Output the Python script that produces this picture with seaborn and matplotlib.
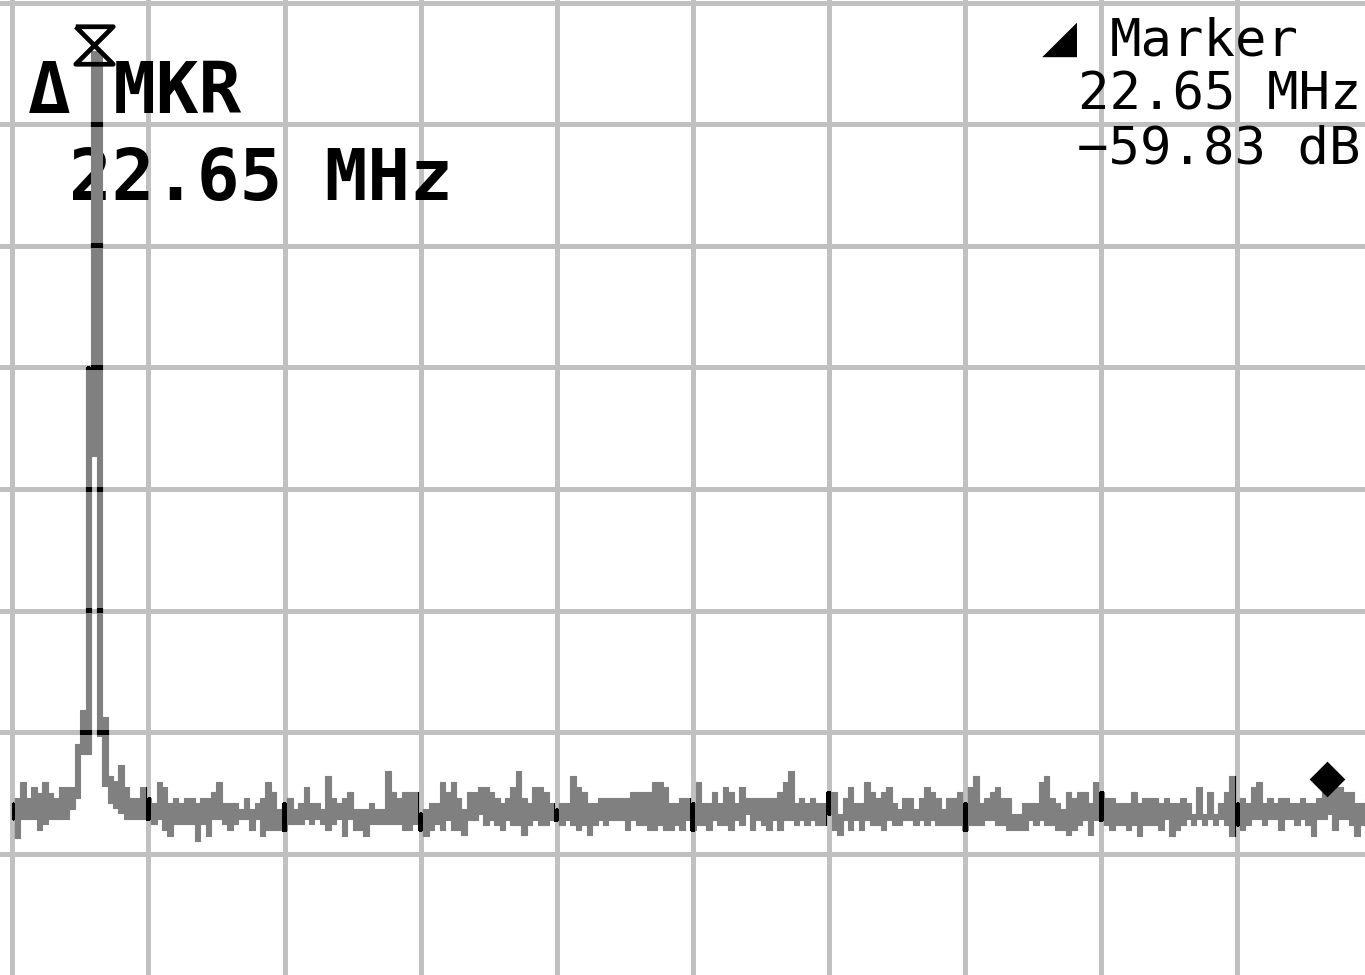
"""
Spectrum analyser screen: delta marker on a single carrier, 0-25 MHz sweep
"""

import numpy as np
import matplotlib
matplotlib.use('Agg')
import matplotlib.pyplot as plt
import seaborn as sns
from matplotlib.path import Path
from matplotlib.transforms import IdentityTransform, ScaledTranslation

# screen setup: 2.5 MHz/div, ref level 0 dB, 10 dB/div
START_MHZ = 0.0
BIN_MHZ = 0.1
freq_ticks = [0, 2.5, 5, 7.5, 10, 12.5, 15, 17.5, 20, 22.5, 25]
level_ticks = [0, -10, -20, -30, -40, -50, -60, -70, -80]

# displayed trace, one column per bin: upper and lower edge (dB)
trace_hi = [
    -65.8, -65.4, -64.1, -65.4, -64.5, -65.0, -64.1, -65.0, -65.4, -64.5,
    -64.5, -64.5, -61.0, -58.2, -30.0, -3.97, -3.97, -58.7, -63.6, -64.0,
    -62.7, -64.5, -65.4, -65.4, -64.5, -65.4, -65.8, -64.1, -64.5, -65.8,
    -65.4, -65.8, -65.4, -65.4, -65.8, -65.4, -65.4, -64.9, -64.1, -65.8,
    -65.8, -65.8, -66.3, -65.4, -66.3, -65.8, -65.4, -64.1, -64.9, -66.3,
    -65.8, -65.4, -66.3, -65.8, -64.5, -65.8, -65.8, -66.3, -63.6, -65.4,
    -65.8, -65.4, -64.9, -66.3, -66.3, -66.3, -65.8, -66.3, -66.3, -63.2,
    -64.9, -65.4, -64.9, -64.9, -64.9, -66.6, -66.3, -65.8, -65.8, -64.1,
    -64.9, -64.1, -65.4, -66.3, -64.9, -64.9, -64.5, -64.5, -64.9, -65.4,
    -65.8, -65.4, -64.5, -63.2, -65.4, -65.8, -64.5, -64.5, -64.9, -65.8,
    -66.3, -65.8, -65.8, -63.6, -64.5, -64.9, -65.8, -65.8, -65.4, -65.4,
    -65.4, -65.4, -65.4, -65.4, -64.9, -64.9, -64.9, -64.9, -64.1, -64.1,
    -64.5, -65.8, -65.8, -65.4, -65.4, -65.8, -64.1, -65.8, -65.8, -64.9,
    -65.8, -64.5, -64.9, -65.8, -64.5, -65.4, -65.4, -65.4, -65.4, -65.4,
    -65.4, -64.9, -64.1, -63.2, -65.8, -65.4, -65.8, -65.4, -65.8, -65.8,
    -64.9, -64.9, -66.7, -65.4, -64.5, -65.8, -65.8, -64.1, -64.9, -65.4,
    -64.9, -64.5, -65.8, -66.3, -65.4, -65.4, -66.3, -65.4, -64.5, -64.9,
    -65.4, -66.3, -65.4, -65.4, -64.9, -65.8, -64.5, -63.6, -65.8, -65.4,
    -64.9, -64.5, -65.4, -65.4, -66.7, -66.7, -65.8, -65.8, -65.8, -64.1,
    -63.6, -65.4, -65.8, -66.3, -64.9, -65.4, -64.9, -64.9, -65.8, -64.1,
    -64.9, -65.4, -65.4, -65.8, -65.8, -65.8, -64.9, -65.8, -65.4, -65.4,
    -65.4, -65.8, -65.4, -65.8, -65.8, -65.4, -65.8, -66.7, -64.5, -66.7,
    -64.9, -66.7, -65.8, -64.9, -63.6, -65.8, -65.4, -65.8, -64.5, -64.1,
    -65.8, -65.4, -65.8, -65.4, -65.4, -65.8, -65.8, -65.4, -65.8, -65.8,
    -65.4, -64.9, -64.9, -64.5, -64.5, -64.9, -64.9, -65.8, -65.8, -65.4,
]
trace_lo = [
    -67.1, -68.7, -67.1, -67.1, -67.1, -68.0, -67.5, -67.1, -67.1, -67.1,
    -67.1, -66.3, -65.4, -61.8, -61.8, -37.3, -60.3, -64.4, -65.8, -66.2,
    -66.6, -67.1, -67.1, -67.1, -67.1, -67.1, -67.5, -67.1, -68.0, -68.5,
    -67.5, -67.5, -67.5, -67.5, -68.9, -67.5, -68.5, -67.1, -67.1, -67.5,
    -68.0, -67.5, -67.1, -67.1, -68.0, -67.1, -68.5, -68.0, -68.0, -68.0,
    -68.0, -67.5, -67.5, -67.5, -67.1, -67.5, -67.1, -67.5, -68.0, -67.5,
    -67.1, -68.5, -67.1, -68.0, -68.0, -68.5, -67.5, -67.5, -67.5, -67.5,
    -67.5, -67.5, -68.0, -68.0, -67.5, -68.0, -68.5, -68.0, -67.5, -68.0,
    -67.2, -68.0, -68.0, -68.4, -67.2, -67.2, -66.7, -67.6, -67.2, -67.6,
    -68.0, -67.2, -67.6, -67.6, -68.4, -67.6, -67.2, -67.6, -67.6, -67.2,
    -67.2, -67.6, -67.2, -67.6, -68.0, -67.6, -68.4, -67.6, -67.2, -67.6,
    -67.2, -67.2, -67.2, -68.0, -67.2, -67.6, -67.6, -68.0, -68.0, -67.6,
    -68.0, -68.0, -67.6, -68.0, -67.2, -68.0, -67.6, -67.6, -68.0, -67.2,
    -67.6, -67.6, -68.0, -67.2, -67.6, -66.7, -68.0, -67.2, -67.6, -68.0,
    -67.2, -68.0, -67.2, -67.2, -67.6, -67.2, -67.6, -67.2, -67.6, -67.6,
    -66.7, -68.0, -68.4, -67.2, -68.0, -67.2, -68.0, -67.2, -67.6, -67.6,
    -68.0, -67.2, -67.6, -67.6, -67.2, -67.2, -67.6, -67.2, -67.6, -67.2,
    -67.6, -67.6, -67.6, -67.6, -67.6, -68.0, -67.6, -67.6, -67.6, -67.2,
    -67.2, -67.6, -67.6, -68.0, -68.0, -68.0, -68.0, -67.2, -67.6, -67.2,
    -67.6, -67.6, -68.0, -68.0, -68.4, -68.0, -67.6, -67.2, -68.4, -67.2,
    -67.2, -67.6, -68.0, -67.6, -67.6, -68.0, -67.6, -68.5, -67.6, -67.6,
    -67.6, -68.0, -67.1, -68.5, -68.0, -67.6, -67.1, -67.6, -67.1, -67.6,
    -67.1, -67.6, -67.1, -67.6, -68.5, -67.6, -68.0, -67.6, -67.1, -67.1,
    -67.6, -67.1, -67.1, -68.0, -67.1, -67.1, -67.6, -67.1, -67.6, -68.5,
    -67.1, -67.1, -66.7, -68.0, -67.1, -67.1, -67.6, -68.5, -67.6, -67.6,
]

# markers
peak_mhz = 1.5
peak_db = -3.97
delta_mhz = 22.65
delta_db = -59.83

freq = START_MHZ + BIN_MHZ * np.arange(len(trace_hi))
mkr_mhz = peak_mhz + delta_mhz
mkr_db = peak_db + delta_db

W, H = 1365, 975
GRID = '#c0c0c0'
TRACE = '#808080'

sns.set_theme(style='white')
plt.rcParams['font.family'] = ['DejaVu Sans Mono', 'DejaVu Sans']

fig = plt.figure(figsize=(W / 100, H / 100), dpi=100)
ax = fig.add_axes([0, 0, 1, 1])
ax.set_facecolor('white')
for s in ax.spines.values():
    s.set_visible(False)

# trace columns
ax.fill_between(freq, trace_lo, trace_hi, step='mid', facecolor=TRACE,
                edgecolor=TRACE, linewidth=0.8, zorder=3)
# where the trace crosses a graticule line it shows black
black = ax.fill_between(freq, trace_lo, trace_hi, step='mid',
                        facecolor='black', edgecolor='black', linewidth=0.8,
                        zorder=3.5)

# reference marker (hourglass) sitting on the peak
hourglass = [(-1, 1), (1, 1), (-1, -1), (1, -1), (-1, 1)]
lift = ax.transData + ScaledTranslation(0, 0.06, fig.dpi_scale_trans)
ax.plot([peak_mhz], [peak_db], marker=hourglass, markersize=27,
        markerfacecolor='none', markeredgecolor='black',
        markeredgewidth=3.4, linestyle='none', transform=lift, zorder=6)

# delta marker
sns.scatterplot(x=[mkr_mhz], y=[mkr_db], marker='D', s=330, color='black',
                linewidth=0, ax=ax, zorder=6, legend=False)

# graticule, set after seaborn so the limits stay put
ax.set_xticks(freq_ticks)
ax.set_yticks(level_ticks)
ax.set_xlim(-0.226, 24.847)
ax.set_ylim(-79.95, 0.206)
ax.set_xlabel('')
ax.set_ylabel('')
ax.tick_params(length=0, labelbottom=False, labelleft=False)
ax.grid(True, color=GRID, linewidth=3.6)
ax.set_axisbelow(True)

strips = []
for f in freq_ticks:
    px = ax.transData.transform((f, 0))[0]
    strips.append(Path([(px - 2.5, 0), (px + 2.5, 0), (px + 2.5, H),
                        (px - 2.5, H), (px - 2.5, 0)], closed=True))
for lv in level_ticks:
    py = ax.transData.transform((0, lv))[1]
    strips.append(Path([(0, py - 2.5), (W, py - 2.5), (W, py + 2.5),
                        (0, py + 2.5), (0, py - 2.5)], closed=True))
black.set_clip_path(Path.make_compound_path(*strips), IdentityTransform())


def put(x, y, text, **kw):
    ax.text(x / W, 1 - y / H, text, transform=ax.transAxes, ha='left',
            va='baseline', color='black', clip_on=False, zorder=2, **kw)


big = dict(fontsize=51, fontweight='bold')
small = dict(fontsize=37.6)
put(28, 113, '\u0394 MKR', **big)
put(69, 200, f'{delta_mhz:.2f} MHz', **big)
put(1042, 55, '\u25e2', fontsize=42)
put(1110, 55, 'Marker', **small)
put(1078, 110, f'{delta_mhz:.2f} MHz', **small)
put(1077, 164, f'\u2212{abs(delta_db):.2f} dB', **small)

fig.savefig('out.png', dpi=100)
